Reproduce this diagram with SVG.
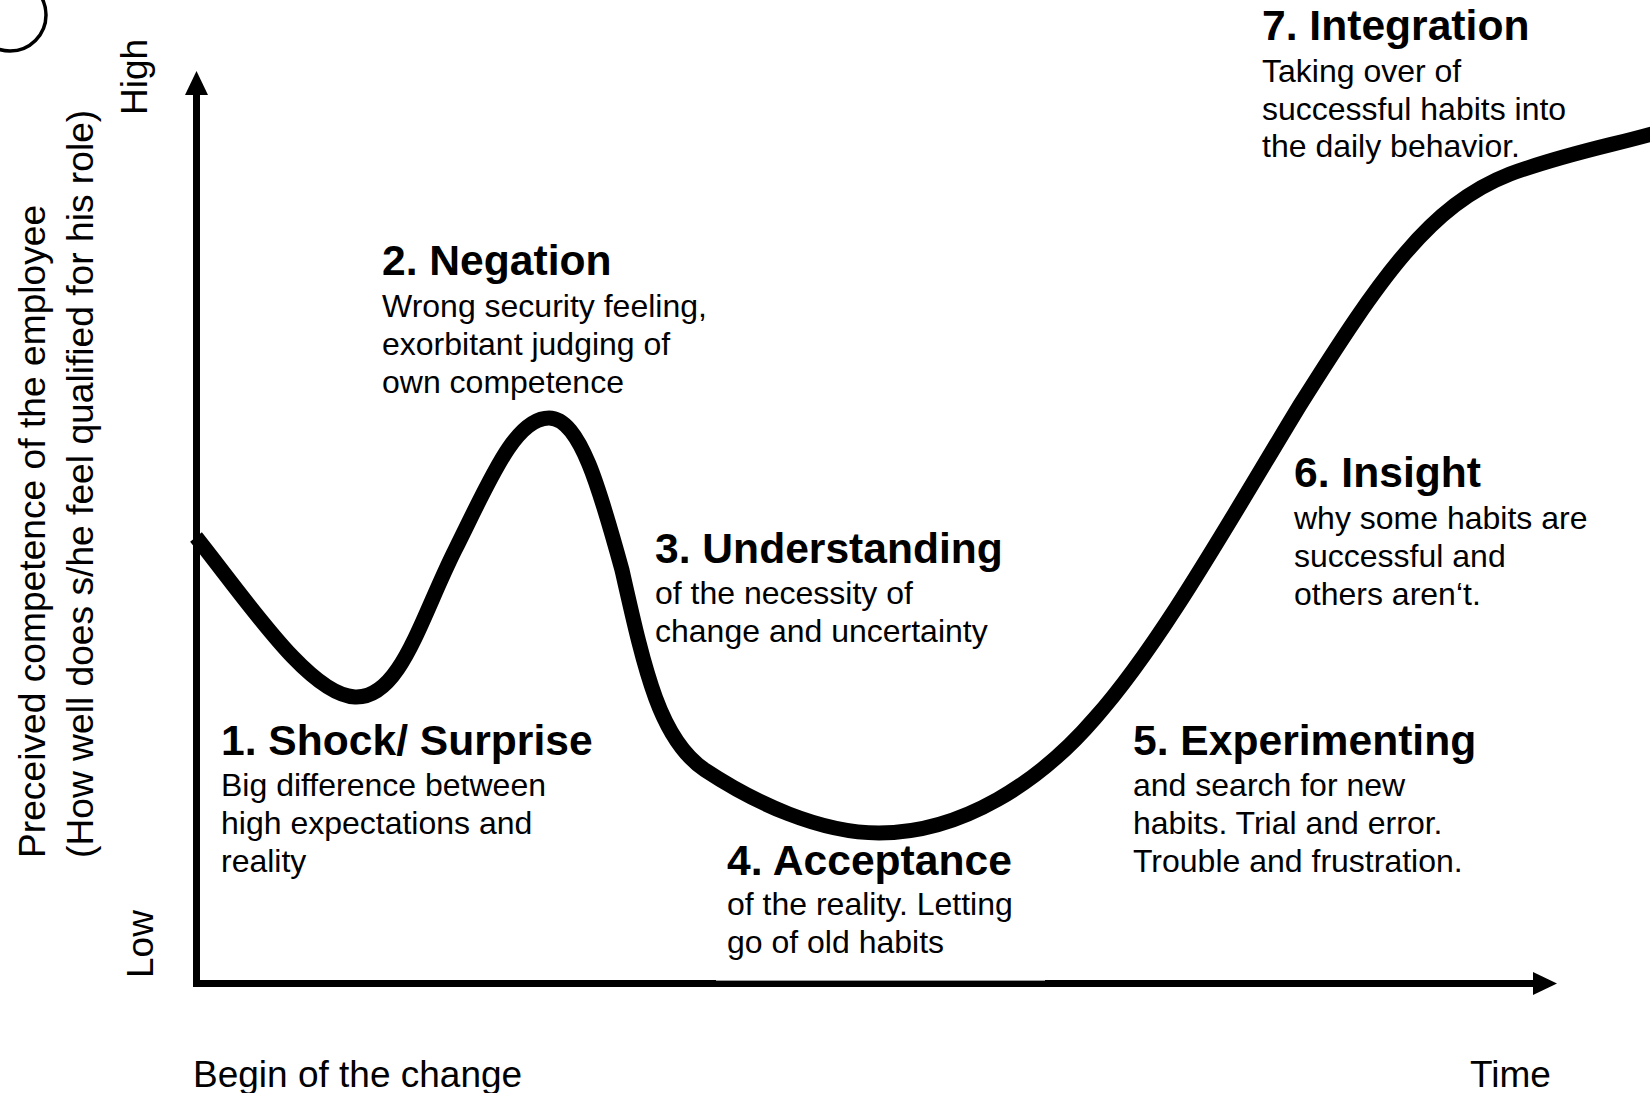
<svg xmlns="http://www.w3.org/2000/svg" width="1650" height="1093" viewBox="0 0 1650 1093">
  <style>
    text { font-family: "Liberation Sans", Arial, Helvetica, sans-serif; fill: #000; }
    .title { font-size: 42.6px; font-weight: bold; }
    .body { font-size: 32px; }
    .axis-label { font-size: 37px; }
    .axis-side { font-size: 37.2px; }
    .axis { stroke: #000; stroke-width: 7; fill: none; }
    .curve { stroke: #000; stroke-width: 15; fill: none; stroke-linejoin: round; }
  </style>
  <defs>
    <marker id="arrow" markerUnits="userSpaceOnUse" markerWidth="24" markerHeight="23" viewBox="0 0 24 23" refX="0" refY="11.5" orient="auto">
      <path d="M0,0 L24,11.5 L0,23 Z" fill="#000"/>
    </marker>
  </defs>

  <rect width="1650" height="1093" fill="#fff"/>

  <!-- partial ring in the top-left corner -->
  <circle cx="10" cy="15" r="36" fill="none" stroke="#000" stroke-width="3.5"/>

  <!-- axes and the change curve -->
  <g id="connectors">
    <path id="y-axis" class="axis" d="M196.5,987 V95" marker-end="url(#arrow)"/>
    <path id="x-axis" class="axis" d="M193,983.5 H1533" marker-end="url(#arrow)"/>
    <path id="change-curve" class="curve" d="M196,537 C250,605 310,695 355,697 C400,699 420,620 455,550 C490,480 515,418 549,418 C580,418 600,490 622,570 C645,672 660,740 705,770 C755,803 820,833 879,833 C962,833 1040,782 1095,718 C1160,645 1230,520 1300,405 C1380,278 1430,205 1510,174 C1570,152 1615,145 1662,131"/>
  </g>

  <!-- axis labels -->
  <g id="y-axis-label" class="axis-side">
    <text transform="translate(45,858) rotate(-90)">Preceived competence of the employee</text>
    <text transform="translate(93,858) rotate(-90)">(How well does s/he feel qualified for his role)</text>
  </g>
  <g id="y-high" class="axis-label"><text transform="translate(147,115) rotate(-90)">High</text></g>
  <g id="y-low" class="axis-label"><text transform="translate(153,978) rotate(-90)">Low</text></g>
  <g id="x-begin" class="axis-label"><text x="193" y="1087">Begin of the change</text></g>
  <g id="x-time" class="axis-label"><text x="1470" y="1087">Time</text></g>

  <!-- phases -->
  <g id="phase-1">
    <text class="title" x="221" y="755">1. Shock/ Surprise</text>
    <text class="body" x="221" y="796">Big difference between</text>
    <text class="body" x="221" y="834">high expectations and</text>
    <text class="body" x="221" y="872">reality</text>
  </g>
  <g id="phase-2">
    <text class="title" x="382" y="275">2. Negation</text>
    <text class="body" x="382" y="317">Wrong security feeling,</text>
    <text class="body" x="382" y="355">exorbitant judging of</text>
    <text class="body" x="382" y="393">own competence</text>
  </g>
  <g id="phase-3">
    <text class="title" x="655" y="563">3. Understanding</text>
    <text class="body" x="655" y="604">of the necessity of</text>
    <text class="body" x="655" y="642">change and uncertainty</text>
  </g>
  <g id="phase-4">
    <rect x="716" y="845" width="329" height="135.6" fill="#fff"/>
    <text class="title" x="727" y="875">4. Acceptance</text>
    <text class="body" x="727" y="915">of the reality. Letting</text>
    <text class="body" x="727" y="953">go of old habits</text>
  </g>
  <g id="phase-5">
    <text class="title" x="1133" y="755">5. Experimenting</text>
    <text class="body" x="1133" y="796">and search for new</text>
    <text class="body" x="1133" y="834">habits. Trial and error.</text>
    <text class="body" x="1133" y="872">Trouble and frustration.</text>
  </g>
  <g id="phase-6">
    <text class="title" x="1294" y="487">6. Insight</text>
    <text class="body" x="1294" y="529">why some habits are</text>
    <text class="body" x="1294" y="567">successful and</text>
    <text class="body" x="1294" y="605">others aren‘t.</text>
  </g>
  <g id="phase-7">
    <text class="title" x="1262" y="40">7. Integration</text>
    <text class="body" x="1262" y="82">Taking over of</text>
    <text class="body" x="1262" y="119.5">successful habits into</text>
    <text class="body" x="1262" y="157">the daily behavior.</text>
  </g>
</svg>
